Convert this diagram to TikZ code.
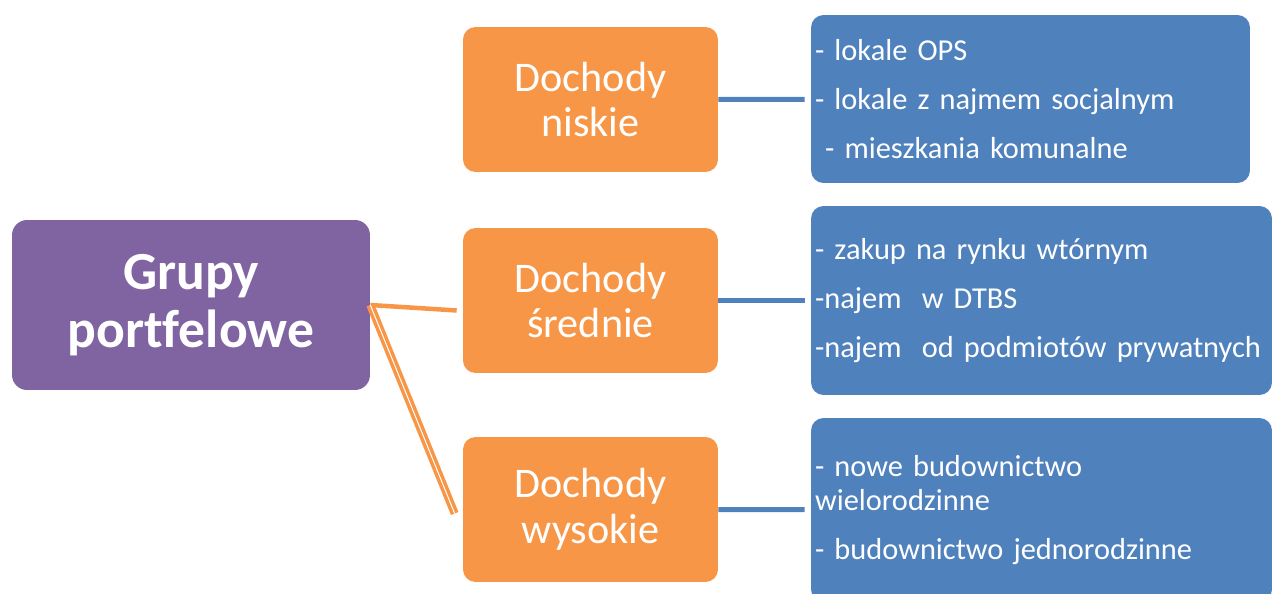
\documentclass[tikz,border=0pt]{standalone}
\usepackage{fontspec}
\setmainfont{Carlito}[Ligatures=NoCommon]
\usetikzlibrary{positioning}
\hyphenpenalty=10000

\definecolor{grupaviolet}{HTML}{8064A2}
\definecolor{dochodorange}{HTML}{F79646}
\definecolor{listablue}{HTML}{4F81BD}

\begin{document}
\begin{tikzpicture}[
    x=0.02cm, y=-0.02cm,
    box/.style={rounded corners=0.25cm, align=center, text=white, inner sep=0pt},
    grupa/.style={box, fill=grupaviolet, rounded corners=0.3cm, minimum width=7.16cm, minimum height=3.4cm, font=\fontsize{30.5}{33}\selectfont\bfseries},
    dochod/.style={box, fill=dochodorange, minimum width=5.1cm, minimum height=2.9cm, font=\fontsize{24}{26}\selectfont},
    lista/.style={box, fill=listablue, align=left, inner xsep=0.08cm, font=\fontsize{17.3}{27.9}\selectfont},
    orangeline/.style={draw=dochodorange, line width=0.09cm},
    blueline/.style={draw=listablue, line width=0.1cm, shorten >=0.12cm}
]
\useasboundingbox (0,0) rectangle (1273,594);

\node[grupa] (grupa) at (191,305) {Grupy\\portfelowe};

\node[dochod] (niskie) at (590.5,99.5) {Dochody\\niskie};
\node[dochod] (srednie) at (590.5,300.5) {Dochody\\średnie};
\node[dochod] (wysokie) at (590.5,509.5) {Dochody\\wysokie};

\node[lista, text width=8.62cm, minimum height=3.36cm] (ops) at (1030.5,99)
    {- lokale OPS\\- lokale z najmem socjalnym\\~- mieszkania komunalne};
\node[lista, text width=9.06cm, minimum height=3.78cm] (rynek) at (1041.5,300.5)
    {- zakup na rynku wtórnym\\-najem\ \ w DTBS\\-najem\ \ od podmiotów prywatnych};
\node[lista, text width=9.06cm, minimum height=3.68cm] (budownictwo) at (1041.5,510)
    {- nowe budownictwo\\[-8.5pt]wielorodzinne\\- budownictwo jednorodzinne};

\draw[orangeline] (grupa.east) -- ([shift={(-6,10)}]srednie.west);
\draw[orangeline, line width=0.07cm, double=white, double distance=0.02cm] (grupa.east) -- ([shift={(-8,4)}]wysokie.west);

\draw[blueline] (niskie) -- (ops);
\draw[blueline] (srednie) -- (rynek);
\draw[blueline] (wysokie) -- (budownictwo);
\end{tikzpicture}
\end{document}
